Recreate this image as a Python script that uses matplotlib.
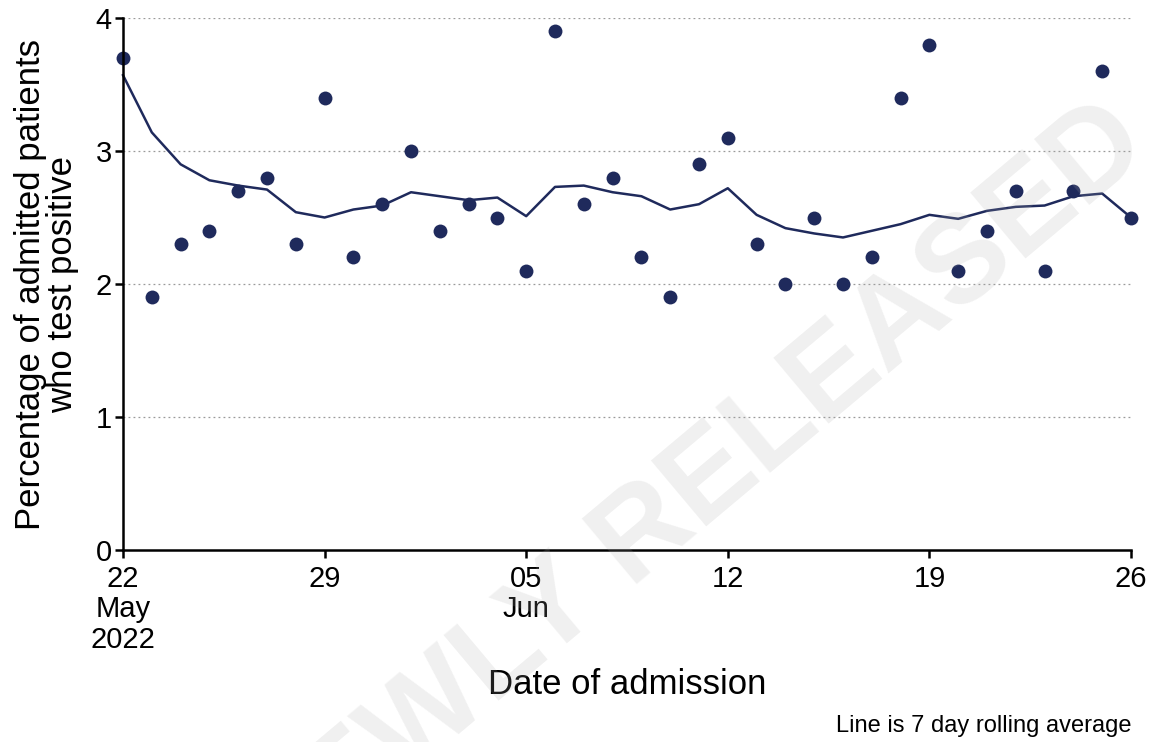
import numpy as np
import pandas as pd
import matplotlib
matplotlib.use("Agg")
import matplotlib.pyplot as plt

plt.rcParams['font.family'] = ['Liberation Sans', 'DejaVu Sans']

# data
dates = pd.date_range("2022-05-22", "2022-06-26", freq="D")
pct_positive = [3.7, 1.9, 2.3, 2.4, 2.7, 2.8, 2.3, 3.4, 2.2, 2.6,
                3.0, 2.4, 2.6, 2.5, 2.1, 3.9, 2.6, 2.8, 2.2, 1.9,
                2.9, 3.1, 2.3, 2.0, 2.5, 2.0, 2.2, 3.4, 3.8, 2.1,
                2.4, 2.7, 2.1, 2.7, 3.6, 2.5]
rolling_avg = [3.57, 3.14, 2.90, 2.78, 2.74, 2.71, 2.54, 2.50, 2.56, 2.59,
               2.69, 2.66, 2.63, 2.65, 2.51, 2.73, 2.74, 2.69, 2.66, 2.56,
               2.60, 2.72, 2.52, 2.42, 2.38, 2.35, 2.40, 2.45, 2.52, 2.49,
               2.55, 2.58, 2.59, 2.66, 2.68, 2.50]
tick_dates = pd.to_datetime(["2022-05-22", "2022-05-29", "2022-06-05",
                             "2022-06-12", "2022-06-19", "2022-06-26"])
tick_labels = ["22\nMay\n2022", "29", "05\nJun", "12", "19", "26"]
y_ticks = [0, 1, 2, 3, 4]

navy = '#1f2a5c'

fig = plt.figure(figsize=(11.54, 7.42), dpi=100)
ax = fig.add_axes([123/1154, 1-550/742, (1131-123)/1154, (550-18)/742])

for yv in y_ticks[1:]:
    ax.axhline(yv, color='#9a9a9a', lw=0.9, ls=(0, (1.5, 2.5)), zorder=1)

ax.plot(dates, rolling_avg, color=navy, lw=1.8, zorder=3, clip_on=False)
ax.scatter(dates, pct_positive, s=100, color=navy, zorder=4, linewidths=0,
           clip_on=False)

ax.set_xlim(dates[0], dates[-1])
ax.set_ylim(0, 4)
ax.set_xticks(tick_dates)
ax.set_xticklabels(tick_labels, fontsize=21, linespacing=1.1)
ax.set_yticks(y_ticks)
ax.set_yticklabels([str(v) for v in y_ticks], fontsize=21)
ax.tick_params(axis='both', length=6, width=1.8, color='black')
ax.tick_params(axis='x', pad=5)
ax.tick_params(axis='y', pad=2)

for s in ['top', 'right']:
    ax.spines[s].set_visible(False)
for s in ['left', 'bottom']:
    ax.spines[s].set_linewidth(1.8)
    ax.spines[s].set_zorder(5)

ax.set_ylabel("Percentage of admitted patients\nwho test positive", fontsize=25,
              linespacing=0.95, labelpad=12)
ax.set_xlabel("Date of admission", fontsize=25, labelpad=10)

fig.text(1131/1154, 1-726/742, "Line is 7 day rolling average", fontsize=17,
         ha='right', va='center')

# faint watermark laid over the chart (runs off the canvas like the original)
fig.text(1153/1154, 1-152/742, "NEWLY RELEASED", fontsize=90, fontweight='bold',
         color='#aaaaaa', alpha=0.18, rotation=40, rotation_mode='anchor',
         ha='right', va='baseline', zorder=10)

fig.savefig("out.png", dpi=100)
